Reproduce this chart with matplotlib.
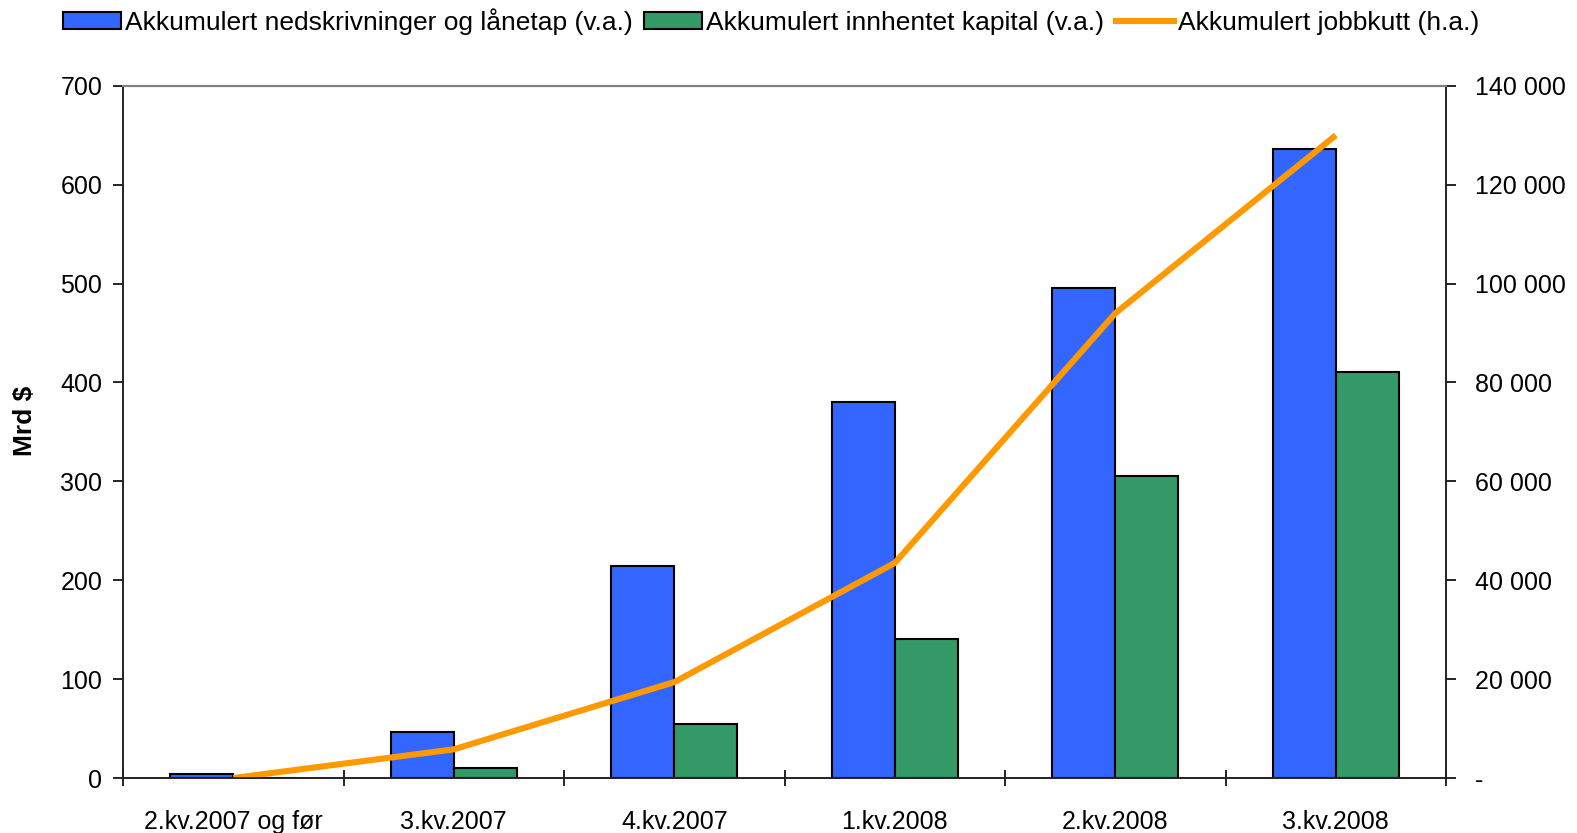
import numpy as np
import matplotlib.pyplot as plt
from matplotlib.patches import Patch
from matplotlib.lines import Line2D
from matplotlib.ticker import FuncFormatter

plt.rcParams['font.family'] = ['Liberation Sans', 'DejaVu Sans']

# Kvartaler og akkumulerte tall
kvartaler = ['2.kv.2007 og før', '3.kv.2007', '4.kv.2007', '1.kv.2008', '2.kv.2008', '3.kv.2008']
nedskrivninger = [4, 47, 214, 380, 496, 636]      # mrd $
innhentet_kapital = [0, 10, 55, 141, 305, 411]    # mrd $
jobbkutt = [0, 5800, 19400, 43500, 94000, 130000]  # antall

blaa = '#3366FF'
gronn = '#339966'
oransje = '#FF9900'

fig = plt.figure(figsize=(15.77, 8.33), dpi=100)
ax = fig.add_axes([0.078, 0.066, 0.839, 0.831])
ax2 = ax.twinx()

x = np.arange(len(kvartaler))
b = 0.286
ax.bar(x - b / 2, nedskrivninger, b, color=blaa, edgecolor='black', linewidth=1.5, zorder=2)
ax.bar(x + b / 2, innhentet_kapital, b, color=gronn, edgecolor='black', linewidth=1.5, zorder=2)
ax2.plot(x, jobbkutt, color=oransje, linewidth=4.4, solid_capstyle='butt')

ax.set_xlim(-0.5, len(kvartaler) - 0.5)
ax.set_ylim(0, 700)
ax2.set_ylim(0, 140000)
ax.set_yticks(np.arange(0, 701, 100))
ax2.set_yticks(np.arange(0, 140001, 20000))
ax2.yaxis.set_major_formatter(FuncFormatter(
    lambda v, p: '-' if v == 0 else f'{int(v):,}'.replace(',', ' ')))

# Kategorietiketter i midten, tikkmerker på grensene
ax.set_xticks(np.arange(-0.5, len(kvartaler), 1))
ax.set_xticklabels([])
ax.set_xticks(x, minor=True)
ax.set_xticklabels(kvartaler, minor=True)
ax.tick_params(axis='x', which='minor', length=0, pad=23, labelsize=18)
ax.tick_params(axis='x', which='major', length=12, width=1.2, direction='inout')
ax.tick_params(axis='y', length=7, width=1.2, direction='out', labelsize=18, pad=8)
ax2.tick_params(axis='y', length=7, width=1.2, direction='out', labelsize=18, pad=14)

fig.text(25 / 1568, 1 - 418 / 828, 'Mrd $', rotation=90, fontsize=19, fontweight='bold',
         ha='center', va='center')

for a in (ax, ax2):
    a.spines['top'].set_color('#808080')
    a.spines['top'].set_linewidth(1.5)
    for s in ('left', 'right', 'bottom'):
        a.spines[s].set_linewidth(1.2)
        a.spines[s].set_color('#222222')

handles = [
    Patch(facecolor=blaa, edgecolor='black', linewidth=1.5),
    Patch(facecolor=gronn, edgecolor='black', linewidth=1.5),
    Line2D([0], [0], color=oransje, linewidth=4.4),
]
labels = ['Akkumulert nedskrivninger og lånetap (v.a.)',
          'Akkumulert innhentet kapital (v.a.)',
          'Akkumulert jobbkutt (h.a.)']
fig.legend(handles, labels, loc='upper center', bbox_to_anchor=(0.489, 1.019), ncol=3,
           frameon=False, fontsize=19, handlelength=2.2, handleheight=0.65,
           handletextpad=0.15, columnspacing=0.45)

fig.savefig('out.png', dpi=100)
